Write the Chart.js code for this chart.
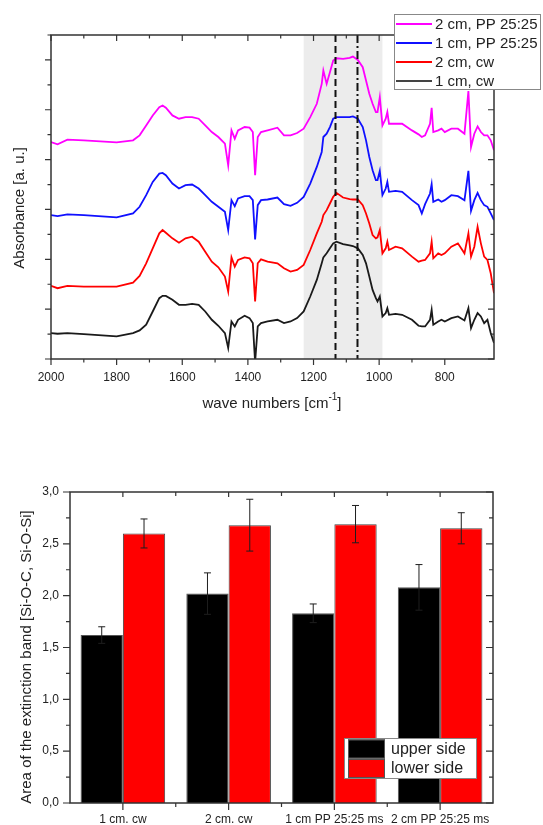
<!DOCTYPE html>
<html>
<head>
<meta charset="utf-8">
<title>FTIR spectra and extinction band area</title>
<script src="https://cdn.jsdelivr.net/npm/chart.js@4.4.0/dist/chart.umd.min.js"></script>
<style>
  html, body { margin: 0; padding: 0; background: #fff; }
  #wrap { position: relative; width: 543px; height: 825px; }
  #spectra { position: absolute; left: 0; top: 0; }
  #bars { position: absolute; left: 0; top: 420px; }
</style>
</head>
<body>
<div id="wrap">
  <canvas id="spectra" width="543" height="420"></canvas>
  <canvas id="bars" width="543" height="405"></canvas>
</div>
<script>
// ---- top plot: IR spectra (absorbance, arbitrary units, curves stacked) ----
const wavenumbers = [
  2000, 1980, 1950, 1900, 1800, 1750, 1730, 1710, 1690, 1670, 1660, 1650,
  1630, 1610, 1590, 1570, 1550, 1530, 1510, 1490, 1470, 1460, 1450, 1440,
  1430, 1410, 1395, 1385, 1378, 1370, 1360, 1340, 1310, 1290, 1270, 1250,
  1230, 1210, 1190, 1175, 1170, 1160, 1150, 1140, 1130, 1110, 1090, 1080,
  1065, 1050, 1040, 1030, 1020, 1010, 1005, 998, 990, 980, 975, 970,
  950, 930, 900, 880, 870, 860, 845, 840, 835, 820, 810, 800,
  780, 760, 740, 728, 720, 710, 700, 690, 680, 670, 660, 650
];
const abs2cmPP = [
  653, 646, 660, 658, 652, 658, 673, 703, 733, 758, 763, 756,
  733, 723, 728, 728, 723, 703, 683, 668, 648, 583, 688, 663,
  688, 698, 696, 683, 553, 668, 683, 688, 696, 673, 673, 680,
  693, 728, 768, 828, 868, 828, 863, 898, 905, 903, 906, 910,
  900, 878, 838, 798, 768, 743, 743, 788, 703, 723, 743, 708,
  708, 708, 688, 676, 668, 673, 708, 756, 683, 688, 693, 683,
  693, 693, 678, 806, 638, 678, 700, 683, 673, 673, 658, 628
];
const abs1cmPP = [
  433, 430, 435, 433, 426, 438, 458, 493, 533, 558, 560, 553,
  528, 513, 523, 525, 513, 493, 473, 458, 443, 388, 478, 460,
  483, 490, 490, 478, 360, 463, 478, 480, 486, 466, 461, 470,
  488, 528, 578, 623, 668, 678, 698, 723, 728, 728, 728, 730,
  723, 698, 658, 608, 568, 538, 538, 566, 493, 513, 533, 503,
  506, 503, 478, 463, 438, 466, 498, 526, 473, 480, 473, 478,
  493, 490, 478, 566, 446, 478, 500, 478, 463, 458, 438, 418
];
const abs2cmCw = [
  220, 213, 220, 218, 218, 230, 250, 288, 333, 378, 388, 380,
  363, 350, 363, 368, 353, 323, 293, 276, 248, 203, 306, 278,
  298, 306, 303, 288, 173, 288, 300, 293, 288, 273, 263, 268,
  283, 328, 378, 413, 433, 448, 468, 488, 500, 486, 481, 480,
  480, 463, 438, 408, 373, 363, 366, 388, 318, 333, 353, 328,
  338, 333, 308, 293, 296, 298, 318, 353, 303, 318, 313, 318,
  338, 348, 318, 378, 308, 338, 398, 348, 308, 298, 258, 198
];
const abs1cmCw = [
  78, 76, 78, 75, 68, 78, 86, 103, 143, 183, 190, 190,
  178, 163, 163, 166, 163, 143, 118, 100, 78, 33, 113, 98,
  118, 130, 123, 108, -10, 98, 108, 113, 118, 108, 113, 123,
  143, 188, 238, 288, 306, 318, 333, 348, 353, 346, 342, 340,
  333, 313, 288, 248, 208, 183, 173, 188, 128, 138, 153, 133,
  136, 133, 118, 100, 98, 98, 118, 148, 103, 113, 118, 113,
  123, 128, 116, 153, 93, 118, 138, 128, 108, 118, 78, 48
];
const spectraLabels = ['2 cm, PP 25:25', '1 cm, PP 25:25', '2 cm, cw', '1 cm, cw'];
const spectraColors = ['#ff00ff', '#1010ff', '#ff0000', '#1a1a1a'];
const bandRange = [1230, 990];      // shaded Si-O region
const markerDashed = 1133;
const markerDashDot = 1066;

// ---- bottom plot: area of the extinction band ----
const samples = ['1 cm. cw', '2 cm. cw', '1 cm PP 25:25 ms', '2 cm PP 25:25 ms'];
const upperSide = [1.62, 2.02, 1.83, 2.08];
const upperErr = [0.08, 0.20, 0.09, 0.22];
const lowerSide = [2.60, 2.68, 2.69, 2.65];
const lowerErr = [0.14, 0.25, 0.18, 0.15];

const FONT = "'Liberation Sans', Arial, sans-serif";
const INK = '#222';
Chart.defaults.font.family = FONT;
Chart.defaults.color = INK;

function frame(ctx, a) {
  ctx.save();
  ctx.strokeStyle = '#333';
  ctx.lineWidth = 1.5;
  ctx.strokeRect(a.left, a.top, a.right - a.left, a.bottom - a.top);
  ctx.restore();
}

function line(ctx, x1, y1, x2, y2) {
  ctx.moveTo(x1, y1);
  ctx.lineTo(x2, y2);
}

// draws rotated axis title
function vTitle(ctx, text, x, y, size) {
  ctx.save();
  ctx.translate(x, y);
  ctx.rotate(-Math.PI / 2);
  ctx.font = size + 'px ' + FONT;
  ctx.fillStyle = INK;
  ctx.textAlign = 'center';
  ctx.textBaseline = 'middle';
  ctx.fillText(text, 0, 0);
  ctx.restore();
}

const spectraDeco = {
  id: 'spectraDeco',
  beforeDatasetsDraw(chart) {
    const { ctx, chartArea: a, scales: { x } } = chart;
    const x1 = x.getPixelForValue(bandRange[0]);
    const x2 = x.getPixelForValue(bandRange[1]);
    ctx.save();
    ctx.fillStyle = '#ececec';
    ctx.fillRect(Math.min(x1, x2), a.top, Math.abs(x2 - x1), a.bottom - a.top);
    ctx.restore();
  },
  afterDatasetsDraw(chart) {
    const { ctx, chartArea: a, scales: { x } } = chart;
    ctx.save();
    ctx.strokeStyle = '#111';
    ctx.lineWidth = 2;
    ctx.beginPath();
    ctx.setLineDash([7, 4]);
    const xd = x.getPixelForValue(markerDashed);
    line(ctx, xd, a.top, xd, a.bottom);
    ctx.stroke();
    ctx.beginPath();
    ctx.setLineDash([8, 3, 2, 3]);
    const xdd = x.getPixelForValue(markerDashDot);
    line(ctx, xdd, a.top, xdd, a.bottom);
    ctx.stroke();
    ctx.restore();
  },
  afterDraw(chart) {
    const { ctx, chartArea: a, scales: { x, y } } = chart;
    frame(ctx, a);
    ctx.save();
    ctx.strokeStyle = '#333';
    ctx.lineWidth = 1.2;
    ctx.beginPath();
    x.ticks.forEach(t => {
      if (t.value % 100 !== 0) return;
      const px = x.getPixelForValue(t.value);
      const len = t.value % 200 === 0 ? 6 : 3.5;
      line(ctx, px, a.bottom, px, a.bottom + len);
      line(ctx, px, a.top, px, a.top + len);
    });
    y.ticks.forEach(t => {
      const py = y.getPixelForValue(t.value);
      const len = t.value % 150 === 0 ? 6 : 3.5;
      line(ctx, a.left - len, py, a.left, py);
      line(ctx, a.right - len, py, a.right, py);
    });
    ctx.stroke();
    ctx.restore();

    vTitle(ctx, 'Absorbance [a. u.]', 20, 208, 15);

    // x title with superscript
    ctx.save();
    ctx.fillStyle = INK;
    ctx.textBaseline = 'alphabetic';
    const main = 'wave numbers [cm';
    ctx.font = '15px ' + FONT;
    const w1 = ctx.measureText(main).width;
    ctx.font = '10px ' + FONT;
    const w2 = ctx.measureText('-1').width;
    ctx.font = '15px ' + FONT;
    const w3 = ctx.measureText(']').width;
    const start = 272 - (w1 + w2 + w3) / 2;
    ctx.fillText(main, start, 408);
    ctx.font = '10px ' + FONT;
    ctx.fillText('-1', start + w1, 400);
    ctx.font = '15px ' + FONT;
    ctx.fillText(']', start + w1 + w2, 408);
    ctx.restore();

    // legend box
    ctx.save();
    ctx.fillStyle = '#fff';
    ctx.strokeStyle = '#888';
    ctx.lineWidth = 1;
    ctx.fillRect(394, 14, 147, 75);
    ctx.strokeRect(394.5, 14.5, 146, 75);
    ctx.font = '15px ' + FONT;
    ctx.textBaseline = 'middle';
    chart.data.datasets.forEach((ds, i) => {
      const yy = 24 + i * 19;
      ctx.strokeStyle = i === 3 ? '#444' : ds.borderColor;
      ctx.lineWidth = 2;
      ctx.beginPath();
      line(ctx, 396, yy, 432, yy);
      ctx.stroke();
      ctx.fillStyle = INK;
      ctx.fillText(ds.label, 435, yy + 1);
    });
    ctx.restore();
  }
};

const spectraSeries = [abs2cmPP, abs1cmPP, abs2cmCw, abs1cmCw];

new Chart(document.getElementById('spectra'), {
  type: 'line',
  data: {
    datasets: spectraSeries.map((vals, i) => ({
      label: spectraLabels[i],
      data: wavenumbers.map((w, k) => ({ x: w, y: vals[k] })),
      borderColor: spectraColors[i],
      borderWidth: 1.8,
      pointRadius: 0,
      tension: 0
    }))
  },
  options: {
    responsive: false,
    animation: false,
    events: [],
    layout: { padding: { left: 0, top: 35, right: 49, bottom: 0 } },
    plugins: { legend: { display: false }, tooltip: { enabled: false } },
    scales: {
      x: {
        type: 'linear',
        reverse: true,
        min: 650,
        max: 2000,
        grid: { display: false, drawTicks: false },
        border: { display: false },
        ticks: {
          stepSize: 100,
          autoSkip: false,
          maxRotation: 0,
          padding: 11,
          color: INK,
          font: { size: 12 },
          callback: v => (v % 200 === 0 ? String(v) : '')
        },
        afterFit: s => { s.height = 61; }
      },
      y: {
        min: 0,
        max: 975,
        grid: { display: false, drawTicks: false },
        border: { display: false },
        ticks: { stepSize: 75, display: false },
        afterFit: s => { s.width = 51; }
      }
    }
  },
  plugins: [spectraDeco]
});

// ---- bar chart ----
const barDeco = {
  id: 'barDeco',
  afterDatasetsDraw(chart) {
    const { ctx, scales: { y } } = chart;
    const errs = [upperErr, lowerErr];
    ctx.save();
    ctx.strokeStyle = '#1e1e1e';
    ctx.lineWidth = 1;
    ctx.beginPath();
    chart.data.datasets.forEach((ds, d) => {
      chart.getDatasetMeta(d).data.forEach((bar, i) => {
        const v = ds.data[i];
        const top = y.getPixelForValue(v + errs[d][i]);
        const bot = y.getPixelForValue(v - errs[d][i]);
        line(ctx, bar.x, top, bar.x, bot);
        line(ctx, bar.x - 3.5, top, bar.x + 3.5, top);
        line(ctx, bar.x - 3.5, bot, bar.x + 3.5, bot);
      });
    });
    ctx.stroke();
    ctx.restore();
  },
  afterDraw(chart) {
    const { ctx, chartArea: a, scales: { x, y } } = chart;
    frame(ctx, a);
    ctx.save();
    ctx.strokeStyle = '#333';
    ctx.lineWidth = 1.2;
    ctx.beginPath();
    for (let k = 0; k <= 12; k++) {
      const py = y.getPixelForValue(k * 0.25);
      const len = k % 2 === 0 ? 7 : 4;
      line(ctx, a.left - len, py, a.left, py);
      line(ctx, a.right - len, py, a.right, py);
    }
    for (let i = 0; i < samples.length; i++) {
      const px = x.getPixelForValue(i);
      line(ctx, px, a.bottom, px, a.bottom + 7);
      line(ctx, px, a.top, px, a.top + 5);
      if (i < samples.length - 1) {
        const pb = x.getPixelForValue(i + 0.5);
        line(ctx, pb, a.bottom, pb, a.bottom + 4);
        line(ctx, pb, a.top, pb, a.top + 4);
      }
    }
    ctx.stroke();
    ctx.restore();

    vTitle(ctx, 'Area of the extinction band [Si-O-C, Si-O-Si]', 27, 237, 15);

    // legend
    ctx.save();
    ctx.fillStyle = '#fff';
    ctx.fillRect(344, 318, 133, 41);
    ctx.strokeStyle = '#888';
    ctx.lineWidth = 1;
    ctx.strokeRect(344.5, 318.5, 132, 40);
    ctx.font = '16px ' + FONT;
    ctx.textBaseline = 'middle';
    chart.data.datasets.forEach((ds, i) => {
      const yy = 319.5 + i * 19.5;
      ctx.fillStyle = ds.backgroundColor;
      ctx.fillRect(348, yy, 37, 19);
      ctx.strokeStyle = '#555';
      ctx.strokeRect(348.5, yy + 0.5, 36, 18);
      ctx.fillStyle = INK;
      ctx.fillText(ds.label, 391, yy + 10);
    });
    ctx.restore();
  }
};

new Chart(document.getElementById('bars'), {
  type: 'bar',
  data: {
    labels: samples,
    datasets: [
      { label: 'upper side', data: upperSide, backgroundColor: '#000000', borderColor: '#555', borderWidth: 1 },
      { label: 'lower side', data: lowerSide, backgroundColor: '#ff0000', borderColor: '#444', borderWidth: 1 }
    ]
  },
  options: {
    responsive: false,
    animation: false,
    events: [],
    layout: { padding: { left: 0, top: 72, right: 50, bottom: 0 } },
    datasets: { bar: { categoryPercentage: 0.8, barPercentage: 1.0 } },
    plugins: { legend: { display: false }, tooltip: { enabled: false } },
    scales: {
      x: {
        grid: { display: false, drawTicks: false },
        border: { display: false },
        ticks: { autoSkip: false, maxRotation: 0, padding: 9, color: INK, font: { size: 12 } },
        afterFit: s => { s.height = 22; }
      },
      y: {
        min: 0,
        max: 3,
        grid: { display: false, drawTicks: false },
        border: { display: false },
        ticks: {
          stepSize: 0.5,
          padding: 11,
          color: INK,
          font: { size: 12 },
          callback: v => v.toFixed(1).replace('.', ',')
        },
        afterFit: s => { s.width = 70; }
      }
    }
  },
  plugins: [barDeco]
});
</script>
</body>
</html>
